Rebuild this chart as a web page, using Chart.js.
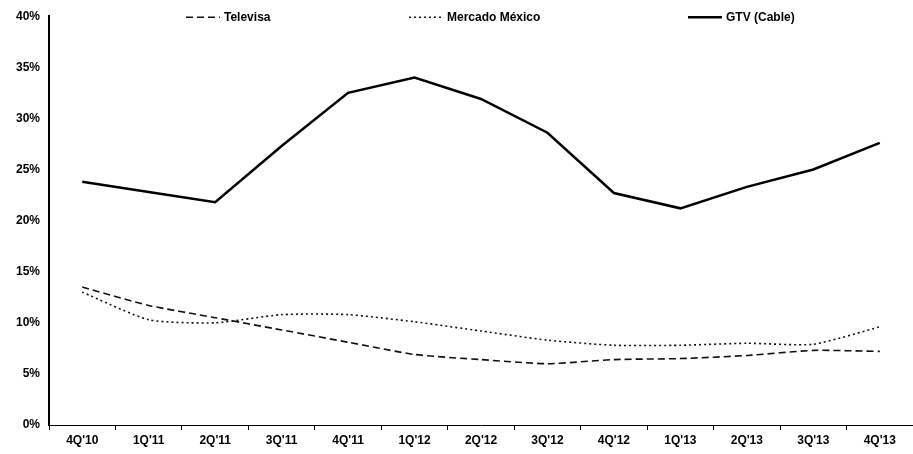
<!DOCTYPE html>
<html>
<head>
<meta charset="utf-8">
<script src="https://cdn.jsdelivr.net/npm/chart.js@4"></script>
<style>
  html, body { margin: 0; padding: 0; background: #fff; }
  #wrap { width: 913px; height: 454px; }
</style>
</head>
<body>
<div id="wrap"><canvas id="chart"></canvas></div>
<script>
// values (in %)
const quarters = ["4Q'10", "1Q'11", "2Q'11", "3Q'11", "4Q'11", "1Q'12", "2Q'12",
                  "3Q'12", "4Q'12", "1Q'13", "2Q'13", "3Q'13", "4Q'13"];
const televisa = [13.5, 11.7, 10.5, 9.3, 8.1, 6.9, 6.4, 6.0, 6.4, 6.5, 6.8, 7.3, 7.2];
const mercadoMexico = [13.0, 10.3, 10.0, 10.8, 10.8, 10.1, 9.2, 8.3, 7.8, 7.8, 8.0, 7.9, 9.6];
const gtvCable = [23.8, 22.8, 21.8, 27.3, 32.5, 34.0, 31.9, 28.6, 22.7, 21.2, 23.3, 25.0, 27.6];
const seriesNames = ["Televisa", "Mercado México", "GTV (Cable)"];

const FONT = "'Liberation Sans', Arial, sans-serif";

// legend drawn inside the plot, along its top edge
const topLegend = {
  id: "topLegend",
  afterDraw(chart) {
    const ctx = chart.ctx;
    const starts = [186, 409, 688];
    const y = chart.chartArea.top + 1;
    ctx.save();
    chart.data.datasets.forEach((ds, i) => {
      const x = starts[i];
      ctx.strokeStyle = ds.borderColor;
      ctx.lineWidth = ds.borderWidth;
      ctx.setLineDash(ds.borderDash || []);
      ctx.beginPath();
      ctx.moveTo(x, y);
      ctx.lineTo(x + 34, y);
      ctx.stroke();
      ctx.setLineDash([]);
      ctx.fillStyle = "#000";
      ctx.font = "bold 12px " + FONT;
      ctx.textBaseline = "middle";
      ctx.fillText(ds.label, x + 38, y);
    });
    ctx.restore();
  }
};

new Chart("chart", {
  type: "line",
  data: {
    labels: quarters,
    datasets: [
      {
        label: seriesNames[0],
        data: televisa,
        borderColor: "#111",
        borderWidth: 1.6,
        borderDash: [7, 4],
        pointRadius: 0,
        tension: 0.2,
        fill: false
      },
      {
        label: seriesNames[1],
        data: mercadoMexico,
        borderColor: "#111",
        borderWidth: 1.6,
        borderDash: [2, 3],
        pointRadius: 0,
        tension: 0.2,
        fill: false
      },
      {
        label: seriesNames[2],
        data: gtvCable,
        borderColor: "#000",
        borderWidth: 2.5,
        pointRadius: 0,
        tension: 0,
        fill: false
      }
    ]
  },
  options: {
    responsive: true,
    maintainAspectRatio: false,
    animation: false,
    layout: { padding: { top: 16, right: -6, bottom: 0, left: 0 } },
    plugins: {
      legend: { display: false },
      tooltip: { enabled: false }
    },
    scales: {
      x: {
        offset: true,
        grid: {
          offset: true,
          drawOnChartArea: false,
          tickLength: 5,
          color: "#000"
        },
        border: { color: "#000", width: 1 },
        ticks: {
          color: "#000",
          padding: 3,
          maxRotation: 0,
          autoSkip: false,
          font: { family: FONT, size: 12, weight: "bold" }
        },
        afterFit(scale) { scale.height = 29; }
      },
      y: {
        min: 0,
        max: 40,
        grid: { display: false, drawTicks: false },
        border: { color: "#000", width: 2 },
        ticks: {
          stepSize: 5,
          color: "#000",
          padding: 9,
          font: { family: FONT, size: 12, weight: "bold" },
          callback: (v) => v + "%"
        },
        afterFit(scale) { scale.width = 49; }
      }
    }
  },
  plugins: [topLegend]
});
</script>
</body>
</html>
